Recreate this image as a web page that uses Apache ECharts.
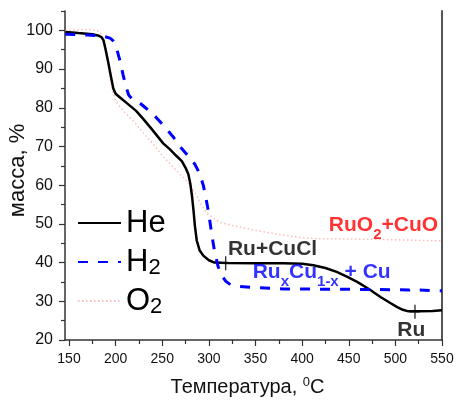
<!DOCTYPE html>
<html>
<head>
<meta charset="utf-8">
<script src="https://cdn.jsdelivr.net/npm/echarts@6/dist/echarts.min.js"></script>
<style>
  html, body { margin: 0; padding: 0; background: #fff; }
  #main { width: 456px; height: 400px; }
</style>
</head>
<body>
<div id="main"></div>
<script>
// TG curves: mass % vs temperature, three atmospheres
const heData = [
  [146, 99.6], [160, 99.3], [175, 99.0], [182, 98.6], [185, 98.2], [187, 97.4], [189, 95.3],
  [192, 91.8], [195, 88.0], [197.5, 85.0], [200, 83.6], [205, 82.6], [212, 81.2], [222, 79.2],
  [230, 77.0], [237, 75.0], [245, 72.6], [251, 70.8], [258, 69.3], [265, 67.6], [271, 66.2],
  [275, 64.5], [278, 62.8], [280, 60.5], [282, 57.0], [283.5, 53.5], [285, 49.5], [287, 45.7],
  [290, 43.2], [294, 41.8], [300, 40.6], [306, 40.0], [320, 39.9], [350, 39.8], [380, 39.8],
  [400, 39.7], [412, 39.3], [425, 38.6], [437, 37.6], [448, 36.4], [459, 35.0], [472, 33.1],
  [484, 31.1], [495, 29.5], [502, 28.5], [508, 27.8], [514, 27.4], [525, 27.4], [540, 27.5],
  [550, 27.7]
];
const h2Data = [
  [146, 99.0], [170, 98.8], [185, 98.6], [194, 98.0], [197, 97.4], [199, 96.5], [202, 94.5],
  [205, 91.8], [208, 88.5], [211, 85.5], [214, 83.3], [218, 82.2], [226, 81.2], [232, 80.0],
  [239, 78.6], [247, 76.6], [255, 74.4], [262, 72.4], [269, 70.0], [277, 67.8], [285, 65.4],
  [289, 63.5], [292, 61.5], [294, 60.0], [297, 56.5], [300, 52.5], [303, 47.4], [306, 43.0],
  [310, 38.9], [314, 36.6], [318, 35.2], [323, 34.3], [330, 33.9], [345, 33.6], [380, 33.2],
  [450, 33.1], [500, 33.0], [515, 32.9], [520, 33.2], [525, 32.9], [550, 32.7]
];
const o2Data = [
  [146, 99.9], [160, 100.2], [175, 100.2], [183, 99.6], [188, 97.5], [190, 94.0], [194, 88.0],
  [197, 84.0], [200, 81.8], [208, 79.2], [219, 76.6], [230, 73.4], [240.5, 70.6], [250, 67.6],
  [258, 65.6], [265, 63.8], [272.7, 62.0], [280, 60.0], [287, 57.2], [292, 55.0], [297.8, 52.8],
  [305, 51.4], [312, 50.4], [325, 49.6], [340, 48.8], [355, 48.1], [370, 47.5], [385, 46.9],
  [400, 46.4], [416, 46.2], [450, 46.1], [500, 45.9], [550, 45.6]
];
const xMajor = [150, 200, 250, 300, 350, 400, 450, 500, 550];
const xMinor = [175, 225, 275, 325, 375, 425, 475, 525];
const yMajor = [20, 30, 40, 50, 60, 70, 80, 90, 100];
const yMinor = [25, 35, 45, 55, 65, 75, 85, 95, 105];
const crossPts = [[318, 39.8], [521, 27.3]];
const noteText = ['Ru+CuCl', 'Ru{s|x}Cu{s|1-x} + Cu', 'RuO{s|2}+CuO', 'Ru'];
const notePts = [[320.4, 43.5], [347, 37.6], [428.6, 49.7], [502, 22.6]];

const FONT = 'Liberation Sans, Arial, sans-serif';
const noteColors = ['#000', '#0000ff', '#ff0000', '#000'];
const X_MIN = 145.7, X_MAX = 550, Y_MIN = 20, Y_MAX = 105;

const chart = echarts.init(document.getElementById('main'));

const axisLineStyle = { color: '#333', width: 1.5 };

chart.setOption({
  animation: false,
  backgroundColor: '#fff',
  grid: { left: 65, right: 14, top: 11, bottom: 60, outerBoundsMode: 'none' },
  legend: {
    data: ['He', 'H2', 'O2'],
    orient: 'vertical',
    left: 77,
    top: 206,
    padding: 0,
    itemGap: 5,
    itemWidth: 43,
    itemHeight: 14,
    selectedMode: false,
    itemStyle: { opacity: 0 },
    formatter: n => n.replace(/(\d)/, '{sub|$1}'),
    textStyle: {
      fontFamily: FONT, fontSize: 31, color: '#000', lineHeight: 34,
      rich: { sub: { fontFamily: FONT, fontSize: 22, color: '#000', lineHeight: 34, padding: [12, 0, 0, 0] } }
    }
  },
  xAxis: [
    {
      type: 'value', min: X_MIN, max: X_MAX, position: 'bottom',
      axisLine: { show: true, onZero: false, lineStyle: axisLineStyle },
      axisTick: { show: true, length: 6, customValues: xMajor, lineStyle: { color: '#333', width: 1.2 } },
      axisLabel: { customValues: xMajor, fontFamily: FONT, fontSize: 14, color: '#111', margin: 12 },
      splitLine: { show: false },
      name: 'Температура, {sup|0}C',
      nameLocation: 'middle',
      nameGap: 36,
      nameMoveOverlap: false,
      nameTextStyle: {
        fontFamily: FONT, fontSize: 20, color: '#111', padding: [0, 12, 0, 0],
        rich: { sup: { fontFamily: FONT, fontSize: 13, color: '#111', padding: [0, 0, 10, 0] } }
      }
    },
    {
      type: 'value', min: X_MIN, max: X_MAX, position: 'bottom',
      axisLine: { show: false, onZero: false },
      axisTick: { show: true, length: 4, customValues: xMinor, lineStyle: { color: '#333', width: 1.2 } },
      axisLabel: { show: false },
      splitLine: { show: false }
    }
  ],
  yAxis: [
    {
      type: 'value', min: Y_MIN, max: Y_MAX, position: 'left',
      axisLine: { show: true, onZero: false, lineStyle: axisLineStyle },
      axisTick: { show: true, length: 6, customValues: yMajor, lineStyle: { color: '#333', width: 1.2 } },
      axisLabel: { customValues: yMajor, fontFamily: FONT, fontSize: 16, color: '#111', margin: 12 },
      splitLine: { show: false },
      name: 'масса, %',
      nameLocation: 'middle',
      nameGap: 36,
      nameMoveOverlap: false,
      nameTextStyle: { fontFamily: FONT, fontSize: 22, color: '#111', padding: [0, 0, 0, 10] }
    },
    {
      type: 'value', min: Y_MIN, max: Y_MAX, position: 'left',
      axisLine: { show: false, onZero: false },
      axisTick: { show: true, length: 4, customValues: yMinor, lineStyle: { color: '#333', width: 1.2 } },
      axisLabel: { show: false },
      splitLine: { show: false }
    },
    {
      type: 'value', min: Y_MIN, max: Y_MAX, position: 'right',
      axisLine: { show: true, onZero: false, lineStyle: { color: '#555', width: 2 } },
      axisTick: { show: false },
      axisLabel: { show: false },
      splitLine: { show: false }
    }
  ],
  series: [
    {
      name: 'O2', type: 'line', data: o2Data, symbol: 'none',
      lineStyle: { color: '#ffbcbc', width: 1.5, type: [1.5, 2.5] },
      itemStyle: { color: '#ffbcbc' }
    },
    {
      name: 'He', type: 'line', data: heData, symbol: 'none',
      lineStyle: { color: '#000', width: 2.5 },
      itemStyle: { color: '#000' }
    },
    {
      name: 'H2', type: 'line', data: h2Data, symbol: 'none',
      lineStyle: { color: '#0000ff', width: 3, type: [10, 10] },
      itemStyle: { color: '#0000ff' }
    },
    {
      type: 'scatter', data: crossPts, silent: true, z: 5,
      symbol: 'path://M4.3,0H5.7V14H4.3Z M0,6.3H10V7.7H0Z',
      symbolSize: [10, 14],
      itemStyle: { color: '#000' }
    },
    {
      type: 'scatter', silent: true, z: 6, symbolSize: 0,
      data: notePts.map((p, i) => ({
        value: p,
        label: {
          show: true, position: 'right', distance: 0,
          formatter: noteText[i],
          fontFamily: FONT, fontSize: 21, fontWeight: 'bold', color: noteColors[i],
          rich: {
            s: { fontFamily: FONT, fontSize: 15, fontWeight: 'bold', color: noteColors[i], padding: [20, 0, 0, 0] }
          }
        }
      }))
    }
  ]
});
</script>
</body>
</html>
